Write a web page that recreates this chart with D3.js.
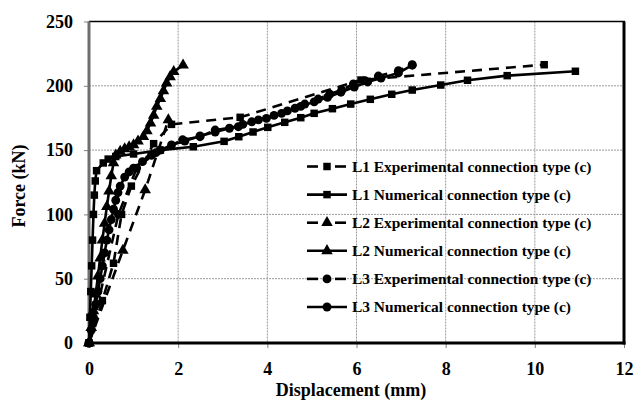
<!DOCTYPE html>
<html>
<head>
<meta charset="utf-8">
<script src="https://cdn.jsdelivr.net/npm/d3@7"></script>
<style>
  body { margin: 0; background: #fff; }
  text { font-family: "Liberation Serif", "Times New Roman", serif; font-weight: bold; fill: #000; }
</style>
</head>
<body>
<div id="chart"></div>
<script>
// data: [displacement (mm), force (kN)]
const l1Exp = [[0,0],[0.3,33],[0.55,62],[0.73,100],[0.95,122],[1.45,155],[1.85,170],[3.39,175.5],[6.1,204.5],[10.21,216.4]];
const l1Num = [[0,0],[0.02,20],[0.04,40],[0.06,60],[0.08,80],[0.1,100],[0.12,115],[0.14,126],[0.17,134],[0.32,140],[0.43,143],[0.6,145],[1.0,147],[1.6,150],[2.34,152.6],[3.03,156.8],[3.36,160.4],[3.68,164.1],[4.01,167.7],[4.39,171.6],[4.75,175.2],[5.05,178.6],[5.46,182.2],[5.87,185.8],[6.31,189.5],[6.79,193.4],[7.25,196.7],[7.89,200.6],[8.49,204.3],[9.38,207.9],[10.91,211.3]];
const l2Exp = [[0,0],[0.76,72],[1.26,119],[1.78,173.5]];
const l2Num = [[0,0],[0.05,12],[0.1,25],[0.15,38],[0.2,52],[0.25,66],[0.3,80],[0.35,93],[0.4,106],[0.45,118],[0.5,130],[0.55,140],[0.6,146],[0.7,149],[0.8,151],[0.9,152.5],[1.0,154],[1.1,157],[1.22,160.5],[1.3,165],[1.38,171],[1.45,177],[1.52,184],[1.6,190],[1.67,196],[1.74,202],[1.82,207],[1.9,211],[2.11,216]];
const l3Exp = [[0,0],[0.66,100],[1.07,136],[1.5,148],[2.1,158],[2.49,160.4],[2.83,165.6],[3.35,168.2],[3.65,172],[3.98,174.7],[4.32,178.6],[4.62,182.5],[4.84,185.8],[5.14,189.7],[5.4,193.6],[5.67,196.7],[5.93,201.4],[6.19,204],[6.49,207.6],[6.94,211.7],[7.25,216.4]];
const l3Num = [[0,0],[0.05,10],[0.1,20],[0.15,30],[0.2,40],[0.25,50],[0.3,60],[0.35,70],[0.4,80],[0.45,88],[0.5,96],[0.55,104],[0.6,111],[0.65,117],[0.7,122],[0.8,129],[0.9,133],[1.0,136],[1.2,141],[1.4,146],[1.6,150],[1.85,154],[2.15,157],[2.49,161],[2.83,164],[3.15,167],[3.45,170],[3.8,173.5],[4.15,177],[4.45,180.5],[4.75,184],[5.05,187.5],[5.35,191],[5.65,195],[5.95,199],[6.25,203],[6.55,206],[6.94,210],[7.25,216]];

const seriesNames = [
  "L1 Experimental connection type (c)",
  "L1 Numerical connection type (c)",
  "L2 Experimental connection type (c)",
  "L2 Numerical connection type (c)",
  "L3 Experimental connection type (c)",
  "L3 Numerical connection type (c)"
];
const seriesData = [l1Exp, l1Num, l2Exp, l2Num, l3Exp, l3Num];
const xTicks = [0, 2, 4, 6, 8, 10, 12];
const yTicks = [0, 50, 100, 150, 200, 250];

const width = 644, height = 404;
const plotLeft = 89, plotRight = 624, plotTop = 21.5, plotBottom = 343;

const svg = d3.select("#chart").append("svg")
    .attr("width", width)
    .attr("height", height);

// scales
const xScale = d3.scaleLinear().domain([0, 12]).range([plotLeft, plotRight]);
const yScale = d3.scaleLinear().domain([0, 250]).range([plotBottom, plotTop]);

// grid
svg.append("g").selectAll("line")
    .data(xTicks.slice(1, -1))
    .join("line")
    .attr("x1", d => xScale(d)).attr("x2", d => xScale(d))
    .attr("y1", plotTop).attr("y2", plotBottom)
    .attr("stroke", "#9a9a9a").attr("stroke-width", 1).attr("stroke-dasharray", "2,1");
svg.append("g").selectAll("line")
    .data(yTicks.slice(1, -1))
    .join("line")
    .attr("x1", plotLeft).attr("x2", plotRight)
    .attr("y1", d => yScale(d)).attr("y2", d => yScale(d))
    .attr("stroke", "#9a9a9a").attr("stroke-width", 1).attr("stroke-dasharray", "2,1");

// axes (ticks + labels)
const xAxis = d3.axisBottom(xScale).tickValues(xTicks).tickSize(5).tickPadding(14);
const yAxis = d3.axisLeft(yScale).tickValues(yTicks).tickSize(5).tickPadding(11);

const gx = svg.append("g").attr("transform", `translate(0,${plotBottom})`).call(xAxis);
const gy = svg.append("g").attr("transform", `translate(${plotLeft},0)`).call(yAxis);
[gx, gy].forEach(g => {
  g.select(".domain").remove();
  g.selectAll(".tick line").attr("stroke", "#808080");
  g.selectAll(".tick text")
    .style("font-family", "'Liberation Serif', serif")
    .style("font-weight", "bold")
    .style("font-size", "18px")
    .attr("fill", "#000");
});

// frame: thin top, grey left axis, heavy right/bottom
svg.append("line").attr("x1", plotLeft).attr("x2", plotRight + 1).attr("y1", plotTop).attr("y2", plotTop)
    .attr("stroke", "#000").attr("stroke-width", 1.5);
svg.append("line").attr("x1", plotLeft).attr("x2", plotLeft).attr("y1", plotTop).attr("y2", plotBottom)
    .attr("stroke", "#6e6e6e").attr("stroke-width", 3);
svg.append("line").attr("x1", plotRight).attr("x2", plotRight).attr("y1", plotTop).attr("y2", plotBottom + 1.5)
    .attr("stroke", "#000").attr("stroke-width", 3);
svg.append("line").attr("x1", plotLeft).attr("x2", plotRight + 1.5).attr("y1", plotBottom).attr("y2", plotBottom)
    .attr("stroke", "#000").attr("stroke-width", 3);

// series
const symbols = [d3.symbolSquare, d3.symbolSquare, d3.symbolTriangle, d3.symbolTriangle, d3.symbolCircle, d3.symbolCircle];
const symSizes = [56, 56, 58, 58, 62, 62];
const dashed = [true, false, true, false, true, false];

const line = d3.line().x(d => xScale(d[0])).y(d => yScale(d[1]));

seriesData.forEach((data, i) => {
  const g = svg.append("g");
  g.append("path")
    .datum(data)
    .attr("d", line)
    .attr("fill", "none")
    .attr("stroke", "#000")
    .attr("stroke-width", 2.6)
    .attr("stroke-dasharray", dashed[i] ? "10,7" : null);
  g.selectAll("path.m")
    .data(data)
    .join("path")
    .attr("class", "m")
    .attr("transform", d => `translate(${xScale(d[0])},${yScale(d[1])})`)
    .attr("d", d3.symbol().type(symbols[i]).size(symSizes[i]))
    .attr("fill", "#000");
});

// legend
const legend = svg.append("g");
seriesNames.forEach((name, i) => {
  const y = 166.5 + i * 28.1;
  if (dashed[i]) {
    legend.append("line").attr("x1", 307).attr("x2", 318).attr("y1", y).attr("y2", y)
        .attr("stroke", "#000").attr("stroke-width", 2.6);
    legend.append("line").attr("x1", 335).attr("x2", 346).attr("y1", y).attr("y2", y)
        .attr("stroke", "#000").attr("stroke-width", 2.6);
  } else {
    legend.append("line").attr("x1", 307).attr("x2", 347).attr("y1", y).attr("y2", y)
        .attr("stroke", "#000").attr("stroke-width", 2.6);
  }
  legend.append("path")
    .attr("transform", `translate(327,${y})`)
    .attr("d", d3.symbol().type(symbols[i]).size(symSizes[i]))
    .attr("fill", "#000");
  legend.append("text")
    .attr("x", 352).attr("y", y + 5)
    .style("font-size", "15.4px")
    .text(name);
});

// axis titles
svg.append("text")
    .attr("x", 351).attr("y", 396)
    .attr("text-anchor", "middle")
    .style("font-size", "18px")
    .text("Displacement (mm)");
svg.append("text")
    .attr("transform", "translate(25,186) rotate(-90)")
    .attr("text-anchor", "middle")
    .style("font-size", "18px")
    .text("Force  (kN)");
</script>
</body>
</html>
